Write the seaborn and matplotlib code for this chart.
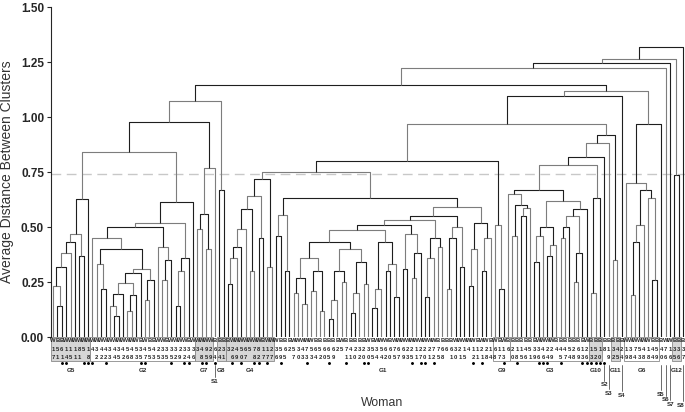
import re
import matplotlib
matplotlib.use("Agg")
import matplotlib.pyplot as plt
from matplotlib.patches import Rectangle
import seaborn as sns

# tree pieces: "*" is one woman (leaf), the number after ")" is the merge height
subtrees = {
    "root": "({R1},*)1.32",
    "R1": "({R2},{G12})1.262",
    "R2": "({R3},*)1.247",
    "R3": "({R4},*)1.225",
    "R4": "({L},{R5})1.145",
    "R5": "({P},{R6})1.118",
    "R6": "({G6},*)0.968",
    "P": "({Q},*)1.095",
    "Q": "({M},{RR})0.968",
    "L": "({L1},{G8})1.074",
    "L1": "({L1a},({G7},*)0.77)0.977",
    "L1a": "({G5},{G2})0.84",
    "G5": "((((((*,(*,*)0.14)0.23,*)0.32,*)0.38,*)0.43,(*,*)0.37)0.47,*)0.627",
    "G2": "({P52},*)0.614",
    "P52": "({P50},(((*,*)0.14,*)0.30,*)0.36)0.52",
    "P50": "((*,{P40})0.45,(*,((*,*)0.26,*)0.35)0.41)0.50",
    "P40": "((*,(*,*)0.22)0.33,{P31})0.40",
    "P31": "(({P245},*)0.29,((*,*)0.17,*)0.26)0.31",
    "P245": "(((*,(*,*)0.095)0.14,*)0.196,((*,*)0.12,*)0.19)0.245",
    "G7": "((*,*)0.49,(*,*)0.40)0.56",
    "G8": "(*,*)0.67",
    "M": "(({M1a},{M1b})0.75,{G9})0.80",
    "M1a": "({G4},(*,*)0.32)0.72",
    "G4": "((((((*,*)0.24,*)0.36,*)0.41,*)0.49,(*,*)0.30)0.58,(*,*)0.45)0.64",
    "M1b": "(((*,*)0.46,(*,*)0.30)0.555,{M1bR})0.63",
    "M1bR": "(((({core},{X4})0.51,{X5})0.53,{X6})0.55,{X7})0.59",
    "core": "(({X1},{X2})0.43,{X3})0.486",
    "X1": "(((*,*)0.20,(*,*)0.15)0.27,((*,*)0.21,(*,*)0.12)0.30)0.36",
    "X2": "((((*,*)0.08,*)0.17,(*,*)0.25)0.30,(((*,*)0.11,*)0.20,(*,*)0.24)0.34)0.40",
    "X3": "(((*,*)0.13,*)0.22,((*,*)0.30,(*,*)0.18)0.33)0.43",
    "X4": "((*,*)0.31,((*,*)0.27,*)0.38)0.47",
    "X5": "(((*,*)0.18,*)0.36,(*,*)0.41)0.45",
    "X6": "(((*,*)0.22,*)0.45,(*,*)0.32)0.50",
    "X7": "(((*,*)0.23,*)0.40,((*,*)0.30,*)0.45)0.52",
    "G9": "(*,(*,*)0.22)0.51",
    "RR": "(((({G3},{G10})0.78,*)0.82,*)0.88,{G11})0.92",
    "G3": "({Z1},{Z2})0.67",
    "Z1": "(*,((*,*)0.46,((*,*)0.55,*)0.585)0.60)0.65",
    "Z2": "((((*,*)0.34,*)0.46,((*,*)0.37,*)0.42)0.50,((((*,*)0.45,*)0.50,((*,*)0.25,*)0.38)0.55,*)0.58)0.62",
    "G10": "((*,*)0.20,*)0.63",
    "G11": "(*,*)0.35",
    "G6": "(*,((((*,*)0.19,*)0.43,*)0.51,(*,(*,*)0.26)0.63)0.67)0.70",
    "G12": "(*,*)0.736",
}

letters = ("WBBWWWWWW" "WWWWWWWWWWWBWBBWWBWWWWBW" "WWWW" "B" "BB" "BWWWWWWWBWW"
           "WBBB" "WWWWWBBB" "BBBWBBBBBW" "BWWWBWW" "WWWWW" "WWWBB" "BBWWW" "WWBWWB"
           "WBW" "BBBBBB" "BWWWWBBBBBBBW" "BBB" "BB" "BB" "B" "WWWWWWBB" "BWW" "BB" "B")

numbers = [17, 51, 61, 14, 15, 11, 81, 5, 18,
           4, 32, 42, 42, 33, 44, 35, 42, 56, 48, 53, 35, 47, 55, 43, 25, 33, 35, 35, 32, 29, 32, 34, 36,
           3, 48, 95, 29, 64, 24, 31,
           3, 26, 49, 50, 67, 5, 78, 82, 17, 17, 27,
           36, 59, 65, 2, 57, 30, 43, 73, 53, 64, 52, 60, 65, 69, 2, 5, 71, 41, 20, 32,
           20, 30, 55, 34, 54, 62, 60, 75, 67, 69, 23, 25, 11, 27, 20, 21, 72, 75, 68, 6,
           61, 30, 21, 15, 4, 12, 11, 21, 28, 14,
           68, 17, 13, 6, 20, 18, 15, 46, 51,
           39, 36, 46, 24, 29, 4, 45, 47, 54, 28, 69, 13, 26,
           13, 52, 10, 8, 19, 32, 45, 24,
           19, 38, 74, 53, 48, 18, 44, 59, 40, 76, 16, 35, 36, 37]

# group boxes under the leaves: name, first leaf, last leaf, shaded
groups = [("G5", 0, 8, True), ("G2", 9, 32, False), ("G7", 33, 36, True), ("G8", 38, 39, True),
          ("G4", 40, 50, True), ("G1", 51, 100, None), ("G9", 101, 104, False), ("G3", 105, 122, False),
          ("G10", 123, 125, True), ("G11", 128, 129, True), ("G6", 131, 138, False), ("G12", 142, 143, True)]

# singletons: name, leaf, label depth, label shift
singles = [("S1", 37, -0.20, 0), ("S2", 126, -0.218, 0), ("S3", 127, -0.255, 0), ("S4", 130, -0.264, 0),
           ("S5", 139, -0.262, 0), ("S6", 140, -0.286, 0), ("S7", 141, -0.305, 0.2), ("S8", 144, -0.312, -0.6)]

dots = [2, 3, 7, 8, 9, 12, 20, 21, 27, 30, 31, 34, 35, 37, 41, 43, 46, 47, 49, 52, 58, 63, 67,
        71, 72, 82, 84, 85, 87, 96, 98, 103, 106, 111, 112, 113, 116, 121, 122, 123, 124, 125, 126]

cut_height = 0.74


def expand(name):
    return re.sub(r"\{(\w+)\}", lambda m: expand(m.group(1)), subtrees[name])


def parse(s, i=0):
    if s[i] == "*":
        return None, i + 1
    left, i = parse(s, i + 1)
    right, i = parse(s, i + 1)
    m = re.match(r"\)([0-9.]+)", s[i:])
    return (float(m.group(1)), left, right), i + m.end()


tree, _ = parse(expand("root"))
n = len(numbers)

sns.set_theme(style="ticks")
plt.rcParams['font.family'] = ['Liberation Sans', 'DejaVu Sans']
fig = plt.figure(figsize=(6.85, 4.12), dpi=100)
ax = fig.add_axes([0.0745, 0.182, 0.9255, 0.801])

counter = [0]


def place(node, depth):
    if node is None:
        x = counter[0]
        counter[0] += 1
        return x, 0.0
    h, l, r = node
    xl, hl = place(l, depth + 1)
    xr, hr = place(r, depth + 1)
    col = "#1e1e1e" if depth % 2 == 0 else "#7d7d7d"
    ax.plot([xl, xl, xr, xr], [hl, h, h, hr], color=col, lw=0.8, solid_capstyle="butt")
    return (xl + xr) / 2, h


place(tree, 0)
print("leaves in tree:", counter[0], "labels:", n, len(letters))

ax.axhline(cut_height, color="#c8c8c8", lw=1.0, dashes=(7, 4), zorder=0)

# leaf labels, three rows
for i in range(n):
    s = str(numbers[i])
    ax.text(i, -0.018, letters[i], ha="center", va="center", fontsize=4.2, fontweight="bold", clip_on=False)
    ax.text(i, -0.055, s[0], ha="center", va="center", fontsize=4.2, fontweight="bold", clip_on=False)
    if len(s) > 1:
        ax.text(i, -0.091, s[1], ha="center", va="center", fontsize=4.2, fontweight="bold", clip_on=False)

for name, a, b, shaded in groups:
    if shaded is not None:
        ax.add_patch(Rectangle((a - 0.5, -0.108), b - a + 1, 0.108,
                               facecolor="#d6d6d6" if shaded else "white", edgecolor="#8a8a8a",
                               lw=0.6, zorder=0, clip_on=False))
    ax.text((a + b) / 2, -0.152, name, ha="center", va="center", fontsize=4.5, fontweight="bold", clip_on=False)

ax.scatter(dots, [-0.12] * len(dots), s=1.2, color="black", clip_on=False)

for name, i, y, dx in singles:
    ax.plot([i, i], [-0.125, y + 0.02], color="#555555", lw=0.6, clip_on=False)
    ax.text(i + dx, y, name, ha="center", va="center", fontsize=4.5, fontweight="bold", clip_on=False)

ax.set_xlim(-0.457, n - 1 + 0.457)
ax.set_ylim(0, 1.5)
ax.set_yticks([0, 0.25, 0.5, 0.75, 1.0, 1.25, 1.5])
ax.set_yticklabels(["%.2f" % v for v in ax.get_yticks()], fontsize=8.5, fontweight="bold")
ax.set_xticks([])
ax.tick_params(axis="y", length=3, width=0.8, pad=2)
ax.set_ylabel("Average Distance Between Clusters", fontsize=10, color="#333333")
ax.yaxis.set_label_coords(-0.058, 0.5)
sns.despine(ax=ax, bottom=True)
ax.spines["left"].set_linewidth(0.8)
fig.text(382 / 685, 1 - 403 / 412, "Woman", ha="center", va="center", fontsize=8.8, color="#333333")

fig.savefig("out.png", dpi=100)
